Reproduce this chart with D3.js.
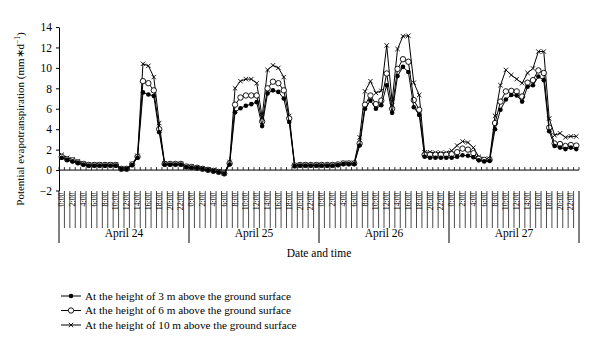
<!DOCTYPE html>
<html>
<head>
<meta charset="utf-8">
<script src="https://cdn.jsdelivr.net/npm/d3@7"></script>
<style>
  html, body { margin: 0; padding: 0; background: #fff; }
  svg { display: block; font-family: "Liberation Serif", "Times New Roman", serif; }
</style>
</head>
<body>
<svg id="chart" width="600" height="338"></svg>
<script>
// ---- data ----
const days = ["April 24", "April 25", "April 26", "April 27"];
const hours = d3.range(24).map(h => h + ":00");
const seriesNames = [
  "At the height of 3 m above the ground surface",
  "At the height of 6 m above the ground surface",
  "At the height of 10 m above the ground surface"
];
const yTicks = [-2, 0, 2, 4, 6, 8, 10, 12, 14];

const et3m = [
  // April 24
  1.2, 1.0, 0.85, 0.7, 0.55, 0.45, 0.45, 0.45, 0.45, 0.45, 0.45, 0.1, 0.1, 0.5, 1.2, 7.6, 7.4, 7.25, 3.7, 0.55, 0.55, 0.55, 0.55, 0.3,
  // April 25
  0.25, 0.2, 0.1, 0.0, -0.1, -0.2, -0.35, 0.55, 5.65, 6.05, 6.3, 6.45, 6.65, 4.3, 7.5, 7.8, 7.65, 7.0, 4.7, 0.4, 0.45, 0.45, 0.45, 0.45,
  // April 26
  0.45, 0.45, 0.45, 0.5, 0.6, 0.6, 0.6, 2.4, 6.0, 6.8, 6.0, 6.35, 8.3, 5.6, 9.2, 10.1, 9.6, 6.15, 5.4, 1.3, 1.2, 1.2, 1.2, 1.2,
  // April 27
  1.2, 1.3, 1.45, 1.4, 1.25, 0.95, 0.85, 0.9, 4.0, 5.9, 6.9, 7.35, 7.3, 6.7, 8.15, 8.3, 9.15, 8.8, 3.8, 2.35, 2.2, 2.05, 2.2, 2.05
];
const et6m = [
  1.3, 1.05, 0.95, 0.75, 0.6, 0.5, 0.5, 0.5, 0.5, 0.5, 0.5, 0.12, 0.12, 0.55, 1.3, 8.7, 8.5, 7.8, 4.0, 0.6, 0.6, 0.6, 0.6, 0.35,
  0.3, 0.22, 0.12, 0.02, -0.08, -0.18, -0.33, 0.65, 6.4, 7.1, 7.3, 7.3, 7.3, 4.75, 8.0, 8.65, 8.5, 7.8, 5.05, 0.45, 0.5, 0.5, 0.5, 0.5,
  0.5, 0.5, 0.5, 0.55, 0.65, 0.65, 0.65, 2.6, 6.4, 7.3, 6.45, 6.8, 9.45, 6.0, 9.9, 10.85, 10.6, 6.85, 5.9, 1.5, 1.5, 1.5, 1.5, 1.5,
  1.55, 1.75, 2.1, 2.0, 1.65, 1.1, 1.0, 1.0, 4.6, 6.7, 7.7, 7.75, 7.7, 7.2, 8.55, 8.8, 9.75, 9.5, 4.15, 2.6, 2.55, 2.35, 2.45, 2.4
];
const et10m = [
  1.5, 1.2, 1.05, 0.85, 0.65, 0.55, 0.55, 0.55, 0.55, 0.55, 0.55, 0.15, 0.15, 0.6, 1.4, 10.4, 10.2, 9.1, 4.6, 0.65, 0.6, 0.6, 0.6, 0.35,
  0.35, 0.25, 0.15, 0.05, -0.05, -0.15, -0.3, 0.8, 8.0, 8.7, 8.9, 8.9, 8.5, 5.2, 9.8, 10.25, 10.0, 9.1, 5.3, 0.5, 0.5, 0.5, 0.5, 0.5,
  0.5, 0.5, 0.5, 0.55, 0.7, 0.7, 0.7, 3.2, 7.7, 8.7, 7.55, 7.75, 12.2, 6.7, 11.85, 13.1, 13.15, 8.55, 7.35, 1.75, 1.75, 1.7, 1.7, 1.7,
  1.9, 2.4, 2.8, 2.7, 2.2, 1.3, 1.1, 1.1, 5.3, 8.3, 9.8, 9.3, 8.9, 8.5, 9.5, 9.95, 11.6, 11.6, 5.05, 3.4, 3.6, 3.2, 3.3, 3.3
];

// ---- layout ----
const svg = d3.select("#chart");
const plotLeft = 59, plotRight = 579, plotTop = 27, plotBottom = 190.5;
const n = days.length * hours.length;
const idx = d3.range(n);

const x = d3.scaleBand().domain(idx).range([plotLeft, plotRight]).paddingInner(0).paddingOuter(0);
const bw = x.bandwidth();
const cx = i => x(i) + bw / 2;
const y = d3.scaleLinear().domain([-2, 14]).range([plotBottom, plotTop]);

// y axis
const yAxis = d3.axisLeft(y).tickValues(yTicks).tickSize(3).tickPadding(4).tickSizeOuter(0);
const yg = svg.append("g").attr("transform", `translate(${plotLeft},0)`).call(yAxis);
yg.select(".domain").attr("stroke", "#000");
yg.selectAll(".tick line").attr("stroke", "#000");
yg.selectAll(".tick text").attr("font-size", 11.5).attr("fill", "#000")
  .attr("font-family", "Liberation Serif, serif");

// y title
const yt = svg.append("text")
  .attr("transform", `translate(24,${(plotTop + 215) / 2 - 2}) rotate(-90)`)
  .attr("text-anchor", "middle")
  .attr("font-size", 11)
  .attr("fill", "#000");
yt.append("tspan").text("Potential evapotranspiration (mm\u2217d");
yt.append("tspan").attr("dy", -4).attr("font-size", 7.5).text("\u22121");
yt.append("tspan").attr("dy", 4).text(")");

// zero axis line with inward ticks
const y0 = y(0);
svg.append("line").attr("x1", plotLeft).attr("x2", plotRight).attr("y1", y0).attr("y2", y0)
  .attr("stroke", "#000").attr("stroke-width", 1);
svg.append("g").selectAll("line").data(d3.range(n + 1)).join("line")
  .attr("x1", i => plotLeft + i * bw).attr("x2", i => plotLeft + i * bw)
  .attr("y1", y0 - 3).attr("y2", y0)
  .attr("stroke", "#000").attr("stroke-width", 0.8);

// category label area: ticks between categories
const labTop = plotBottom + 0.5, labBottom = 228;
svg.append("g").selectAll("line").data(d3.range(n + 1).filter(i => i % 24 !== 0)).join("line")
  .attr("x1", i => plotLeft + i * bw).attr("x2", i => plotLeft + i * bw)
  .attr("y1", labTop).attr("y2", labBottom)
  .attr("stroke", "#000").attr("stroke-width", 0.7);
// day separators
svg.append("g").selectAll("line").data(d3.range(days.length + 1)).join("line")
  .attr("x1", d => plotLeft + d * 24 * bw).attr("x2", d => plotLeft + d * 24 * bw)
  .attr("y1", labTop).attr("y2", 243)
  .attr("stroke", "#000").attr("stroke-width", 1);

// hour labels (every 2 hours)
svg.append("g").selectAll("text").data(idx.filter(i => (i % 24) % 2 === 0)).join("text")
  .attr("transform", i => `translate(${cx(i)},${labTop + 1.5}) rotate(-90)`)
  .attr("text-anchor", "end")
  .attr("dy", "0.33em")
  .attr("font-size", 7.8)
  .attr("fill", "#000")
  .text(i => hours[i % 24]);

// day labels
svg.append("g").selectAll("text").data(days).join("text")
  .attr("x", (d, k) => x(k * 24) + 12 * bw)
  .attr("y", 237)
  .attr("text-anchor", "middle")
  .attr("font-size", 11.5)
  .attr("fill", "#000")
  .text(d => d);

// x title
svg.append("text").attr("x", (plotLeft + plotRight) / 2).attr("y", 256.5)
  .attr("text-anchor", "middle").attr("font-size", 11.5).attr("fill", "#000")
  .text("Date and time");

// ---- series ----
const series = [
  { name: seriesNames[2], values: et10m, marker: "x" },
  { name: seriesNames[1], values: et6m, marker: "open" },
  { name: seriesNames[0], values: et3m, marker: "dot" }
];
const line = d3.line().x((d, i) => cx(i)).y(d => y(d));

function drawMarker(sel, type) {
  if (type === "dot") {
    sel.append("circle").attr("r", 2.3).attr("fill", "#000");
  } else if (type === "open") {
    sel.append("circle").attr("r", 2.7).attr("fill", "#fff").attr("stroke", "#000").attr("stroke-width", 0.9);
  } else {
    sel.append("path").attr("d", "M-2.2,-2.2L2.2,2.2M-2.2,2.2L2.2,-2.2")
      .attr("stroke", "#000").attr("stroke-width", 0.9).attr("fill", "none");
  }
}

series.forEach(s => {
  svg.append("path").datum(s.values).attr("d", line)
    .attr("fill", "none").attr("stroke", "#000").attr("stroke-width", 1);
  const g = svg.append("g").selectAll("g").data(s.values).join("g")
    .attr("transform", (d, i) => `translate(${cx(i)},${y(d)})`);
  drawMarker(g, s.marker);
});

// ---- legend ----
const legendRows = [
  { name: seriesNames[0], marker: "dot" },
  { name: seriesNames[1], marker: "open" },
  { name: seriesNames[2], marker: "x" }
];
const lg = svg.append("g").selectAll("g").data(legendRows).join("g")
  .attr("transform", (d, k) => `translate(0,${296 + k * 14.5})`);
lg.append("line").attr("x1", 61).attr("x2", 81).attr("y1", 0).attr("y2", 0)
  .attr("stroke", "#000").attr("stroke-width", 1);
lg.each(function(d) {
  const m = d3.select(this).append("g").attr("transform", "translate(71,0)");
  drawMarker(m, d.marker);
});
lg.append("text").attr("x", 85).attr("y", 0).attr("dy", "0.35em")
  .attr("font-size", 11.2).attr("fill", "#000").text(d => d.name);
</script>
</body>
</html>
